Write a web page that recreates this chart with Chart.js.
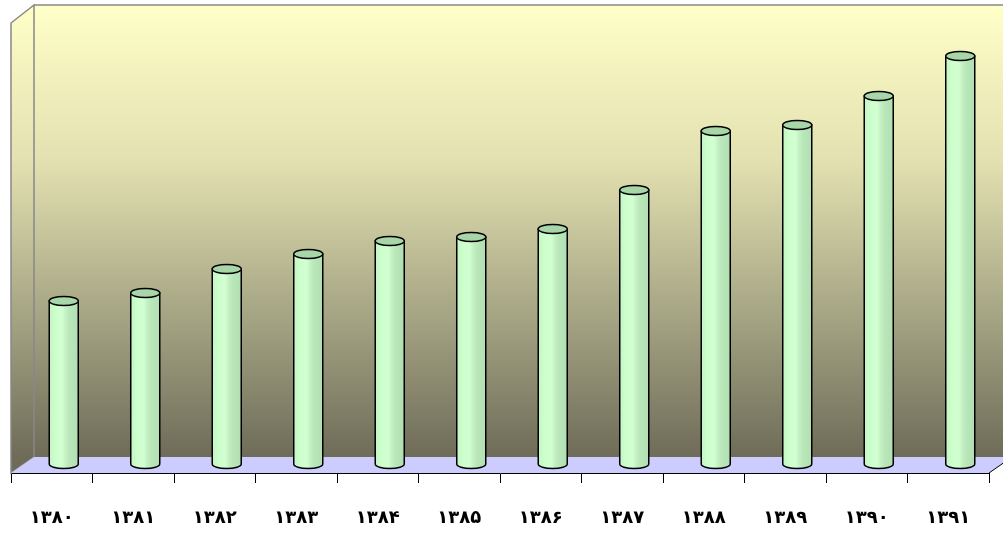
<!DOCTYPE html>
<html>
<head>
<meta charset="utf-8">
<script src="https://cdn.jsdelivr.net/npm/chart.js@4.4.1/dist/chart.umd.min.js"></script>
<style>
  html, body { margin: 0; padding: 0; background: #fff; }
  #wrap { width: 1003px; height: 533px; }
</style>
</head>
<body>
<div id="wrap"><canvas id="grafico"></canvas></div>
<script>
const saal = ['۱۳۸۰', '۱۳۸۱', '۱۳۸۲', '۱۳۸۳', '۱۳۸۴', '۱۳۸۵', '۱۳۸۶', '۱۳۸۷', '۱۳۸۸', '۱۳۸۹', '۱۳۹۰', '۱۳۹۱'];
const meqdar = [163, 171, 195, 210, 223, 227, 235, 274, 333, 339, 368, 408];

// depth of the fake 3d box and where the bars sit inside it
const depth = { dx: 23, dy: -16 };
const barShift = { dx: 12, dy: -9 };

const wallsPlugin = {
  id: 'walls',
  beforeDatasetsDraw(chart) {
    const c = chart.ctx;
    const a = chart.chartArea;
    const L = a.left, R = a.right, B = a.bottom, T = a.top;
    const bx = L + depth.dx, by = B + depth.dy, ty = T - 18;

    const g = c.createLinearGradient(0, ty, 0, by);
    g.addColorStop(0, '#ffffc8');
    g.addColorStop(0.35, '#e2e0b0');
    g.addColorStop(0.7, '#a3a282');
    g.addColorStop(1, '#6e6c58');

    c.save();
    // back wall
    c.fillStyle = g;
    c.fillRect(bx, ty, chart.width - bx, by - ty);
    // left wall
    c.beginPath();
    c.moveTo(L, T); c.lineTo(bx, ty); c.lineTo(bx, by); c.lineTo(L, B);
    c.closePath();
    c.fill();
    c.strokeStyle = '#888';
    c.lineWidth = 1.5;
    c.stroke();
    c.beginPath();
    c.moveTo(bx, ty); c.lineTo(chart.width, ty);
    c.stroke();
    // floor
    c.beginPath();
    c.moveTo(L, B); c.lineTo(R, B); c.lineTo(R + depth.dx, by); c.lineTo(bx, by);
    c.closePath();
    c.fillStyle = '#ccccff';
    c.fill();
    c.strokeStyle = '#000';
    c.lineWidth = 1;
    c.beginPath();
    c.moveTo(R, B); c.lineTo(R + depth.dx, by);
    c.stroke();
    c.restore();
  },
  afterDatasetsDraw(chart) {
    const c = chart.ctx;
    const meta = chart.getDatasetMeta(0);
    c.save();
    meta.data.forEach(el => {
      const x = el.x + barShift.dx;
      const top = el.y + barShift.dy;
      const base = el.base + barShift.dy;
      const rx = el.width / 2, ry = 4.5;

      const g = c.createLinearGradient(x - rx, 0, x + rx, 0);
      g.addColorStop(0, '#c4f4c4');
      g.addColorStop(0.2, '#ccffcc');
      g.addColorStop(0.45, '#d2ffd2');
      g.addColorStop(0.55, '#c6f2c6');
      g.addColorStop(0.7, '#b9e7b9');
      g.addColorStop(1, '#b2dfb2');

      c.beginPath();
      c.moveTo(x - rx, top);
      c.lineTo(x - rx, base);
      c.ellipse(x, base, rx, ry, 0, Math.PI, 0, true);
      c.lineTo(x + rx, top);
      c.closePath();
      c.fillStyle = g;
      c.fill();
      c.strokeStyle = '#000';
      c.lineWidth = 1.5;
      c.stroke();

      c.beginPath();
      c.ellipse(x, top, rx, ry, 0, 0, Math.PI * 2);
      c.fillStyle = '#a9d6a9';
      c.fill();
      c.stroke();
    });
    c.restore();
  }
};

const config = {
  type: 'bar',
  data: {
    labels: saal,
    datasets: [{
      data: meqdar,
      backgroundColor: 'rgba(0,0,0,0)',
      borderWidth: 0,
      barPercentage: 0.356,
      categoryPercentage: 1
    }]
  },
  options: {
    responsive: true,
    maintainAspectRatio: false,
    animation: false,
    layout: { padding: { left: 11, right: 14, top: 23, bottom: 0 } },
    plugins: { legend: { display: false }, tooltip: { enabled: false } },
    scales: {
      y: { display: false, min: 0, max: 450 },
      x: {
        afterFit: (scale) => { scale.height = 60; },
        border: { display: true, color: '#000', width: 1 },
        grid: { drawOnChartArea: false, drawTicks: true, tickLength: 10, color: '#000' },
        ticks: {
          padding: 25,
          color: '#000',
          maxRotation: 0,
          font: { family: 'DejaVu Sans', size: 18, weight: 'bold' }
        }
      }
    }
  },
  plugins: [wallsPlugin]
};

const ctx = document.getElementById('grafico').getContext('2d');
new Chart(ctx, config);
</script>
</body>
</html>
